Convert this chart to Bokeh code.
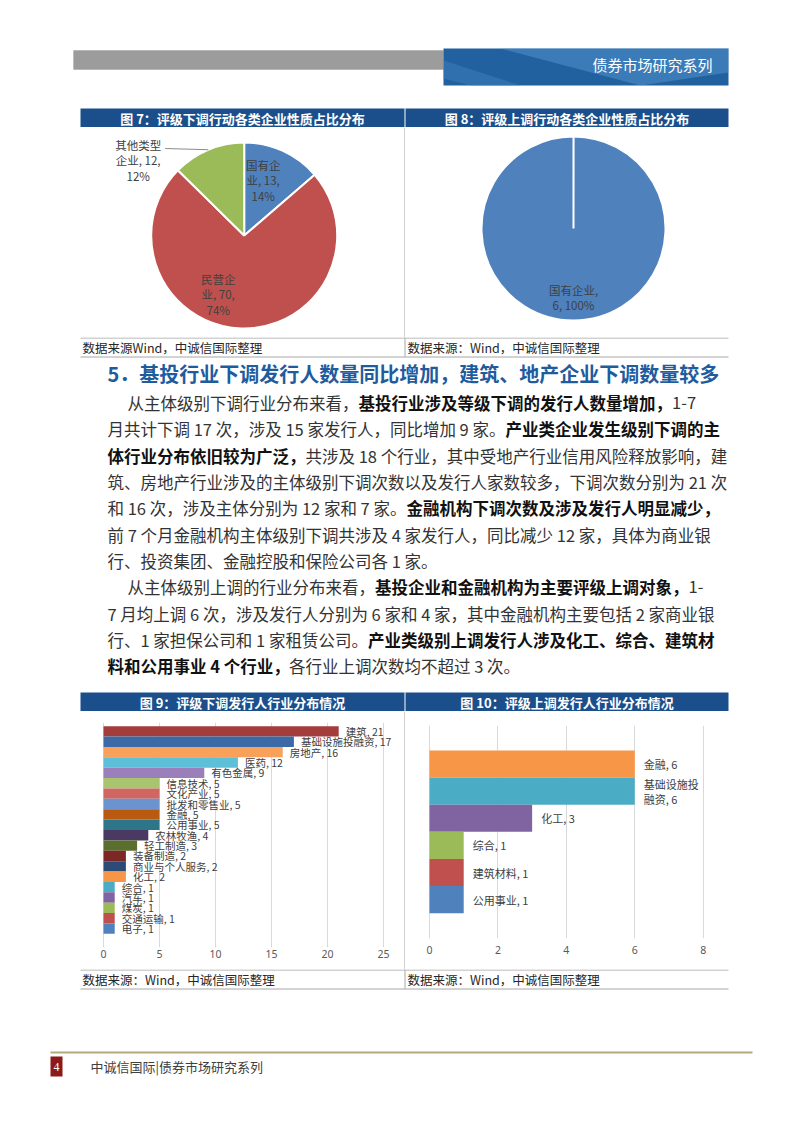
import numpy as np
from bokeh.plotting import figure
from bokeh.layouts import column, row
from bokeh.models import Range1d, ColumnDataSource, FixedTicker
from bokeh.core.properties import value
from bokeh.embed import file_html
from bokeh.resources import INLINE

CJK = "Noto Sans CJK SC"
LAT = "Noto Sans"

# ---------------- data ----------------
header_text = "债券市场研究系列"
fig7_title = "图 7：评级下调行动各类企业性质占比分布"
fig8_title = "图 8：评级上调行动各类企业性质占比分布"
fig9_title = "图 9：评级下调发行人行业分布情况"
fig10_title = "图 10：评级上调发行人行业分布情况"
source_7 = "数据来源Wind，中诚信国际整理"
source_std = "数据来源：Wind，中诚信国际整理"

pie7_cats = ["国有企业", "民营企业", "其他类型企业"]
pie7_vals = [13, 70, 12]
pie7_pcts = [14, 74, 12]

pie8_cats = ["国有企业"]
pie8_vals = [6]
pie8_pcts = [100]

bar9_cats = ["建筑", "基础设施投融资", "房地产", "医药", "有色金属", "信息技术", "文化产业",
             "批发和零售业", "金融", "公用事业", "农林牧渔", "轻工制造", "装备制造",
             "商业与个人服务", "化工", "综合", "汽车", "煤炭", "交通运输", "电子"]
bar9_vals = [21, 17, 16, 12, 9, 5, 5, 5, 5, 5, 4, 3, 2, 2, 2, 1, 1, 1, 1, 1]
bar9_ticks = [0, 5, 10, 15, 20, 25]

bar10_cats = ["金融", "基础设施投融资", "化工", "综合", "建筑材料", "公用事业"]
bar10_vals = [6, 6, 3, 1, 1, 1]
bar10_ticks = [0, 2, 4, 6, 8]

heading = "5．基投行业下调发行人数量同比增加，建筑、地产企业下调数量较多"
para_lines = [
    [("从主体级别下调行业分布来看，", 0), ("基投行业涉及等级下调的发行人数量增加，", 1), ("1-7", 0)],
    [("月共计下调 17 次，涉及 15 家发行人，同比增加 9 家。", 0), ("产业类企业发生级别下调的主", 1)],
    [("体行业分布依旧较为广泛，", 1), ("共涉及 18 个行业，其中受地产行业信用风险释放影响，建", 0)],
    [("筑、房地产行业涉及的主体级别下调次数以及发行人家数较多，下调次数分别为 21 次", 0)],
    [("和 16 次，涉及主体分别为 12 家和 7 家。", 0), ("金融机构下调次数及涉及发行人明显减少，", 1)],
    [("前 7 个月金融机构主体级别下调共涉及 4 家发行人，同比减少 12 家，具体为商业银", 0)],
    [("行、投资集团、金融控股和保险公司各 1 家。", 0)],
    [("从主体级别上调的行业分布来看，", 0), ("基投企业和金融机构为主要评级上调对象，", 1), ("1-", 0)],
    [("7 月均上调 6 次，涉及发行人分别为 6 家和 4 家，其中金融机构主要包括 2 家商业银", 0)],
    [("行、1 家担保公司和 1 家租赁公司。", 0), ("产业类级别上调发行人涉及化工、综合、建筑材", 1)],
    [("料和公用事业 4 个行业，", 1), ("各行业上调次数均不超过 3 次。", 0)],
]
para_indent = [1, 0, 0, 0, 0, 0, 0, 1, 0, 0, 0]
footer_page = "4"
footer_text = "中诚信国际|债券市场研究系列"

# ---------------- styles ----------------
PIE_COLORS7 = ["#4F81BD", "#C0504D", "#9BBB59"]
PIE_COLORS8 = ["#4F81BD"]
BAR9_COLORS = ["#A33D3B", "#3C6AA6", "#F9A05A", "#5DBFD8", "#9A7FBA", "#A9C46E", "#D06562",
               "#6A93CF", "#B85A10", "#2D7689", "#4A3A62", "#5A6F2D", "#7C2826", "#2B4A75",
               "#F79646", "#4BACC6", "#8064A2", "#9BBB59", "#C0504D", "#4F81BD"]
BAR10_COLORS = ["#F79646", "#4BACC6", "#8064A2", "#9BBB59", "#C0504D", "#4F81BD"]
TITLE_BLUE = "#1B4F8C"
HEAD_BLUE = "#1F5C9E"
GRID = "#D9D9D9"
SEP = "#A6A6A6"
X0, X1 = 0, 802
PAGE_W = X1 - X0
BODY = 16.5


def no_align(p):
    try:
        p.frame_align = False
    except Exception:
        pass
    return p


def base_fig(width, height, xr, yr, fill="white", **kw):
    opts = dict(width=width, height=height, x_range=xr, y_range=yr,
                output_backend="svg", toolbar_location=None, min_border=0,
                background_fill_color=fill, border_fill_color=fill,
                outline_line_color=None)
    opts.update(kw)
    p = figure(**opts)
    return no_align(p)


def blank(width, height, fill="white"):
    p = base_fig(width, height, Range1d(0, 1), Range1d(0, 1), fill,
                 x_axis_location=None, y_axis_location=None)
    p.grid.visible = False
    return p


def page_fig(y0, y1):
    p = base_fig(PAGE_W, y1 - y0, Range1d(X0, X1), Range1d(y1, y0),
                 x_axis_location=None, y_axis_location=None)
    p.grid.visible = False
    return p


def txt(p, xs, ys, texts, size, color, bold=False, align="left", font=CJK, **kw):
    p.text(x=xs, y=ys, text=texts, text_font=value(font), text_font_size=size,
           text_color=color, text_font_style="bold" if bold else "normal",
           text_align=align, text_baseline="middle", **kw)


def em_width(s):
    w = 0.0
    for ch in s:
        if ord(ch) >= 0x2E80:
            w += 1.0
        elif ch.isdigit():
            w += 0.555
        elif ch == " ":
            w += 0.224
        elif ch == "-":
            w += 0.34
        else:
            w += 0.55
    return w


# ---------------- header (page y 0..127) ----------------
hdr = page_fig(0, 127)
hdr.quad(left=73, right=443, top=50, bottom=69, fill_color="#8C8C8C", line_color=None)
ys = np.arange(50.5, 69, 2.0)
hdr.segment(x0=73, x1=443, y0=ys, y1=ys, line_color="#ABABAB", line_width=1)
hdr.quad(left=443, right=728, top=48, bottom=85, fill_color="#22619F", line_color=None)
hdr.patch(x=[500, 728, 728, 640], y=[48, 48, 72, 85], fill_color="#5B9BD5",
          fill_alpha=0.45, line_color=None)
hdr.patch(x=[443, 520, 470, 443], y=[60, 85, 85, 78], fill_color="#3F7FBF",
          fill_alpha=0.5, line_color=None)
txt(hdr, [712], [64], [header_text], "15px", "white", align="right")
hdr.quad(left=[80, 405], right=[404, 728], top=108, bottom=127,
         fill_color=TITLE_BLUE, line_color=None)
txt(hdr, [242, 566.5], [117.5, 117.5], [fig7_title, fig8_title], "13px", "white",
    bold=True, align="center")


# ---------------- pies (page y 127..337) ----------------
def pie_angles(vals):
    fr = np.cumsum([0] + list(vals)) / float(sum(vals))
    start = np.pi / 2 - fr[1:] * 2 * np.pi
    end = np.pi / 2 - fr[:-1] * 2 * np.pi
    full = (end - start) >= 2 * np.pi - 1e-9
    end = np.where(full, end - 1e-3, end)
    return start, end, (fr[:-1] + fr[1:]) / 2


# pie 7
cx7, cy7, r7 = 163.7, 102.0, 93.0
p7 = base_fig(324, 210, Range1d(0, 324), Range1d(0, 210),
              x_axis_location=None, y_axis_location=None)
p7.grid.visible = False
st, en, mid7 = pie_angles(pie7_vals)
src7 = ColumnDataSource(dict(x=[cx7] * len(pie7_vals), y=[cy7] * len(pie7_vals),
                             s=st, e=en, c=PIE_COLORS7))
p7.wedge(x="x", y="y", radius=r7, start_angle="s", end_angle="e", fill_color="c",
         line_color="white", line_width=2, source=src7)
wrap7 = [3, 3, 4]
lab7 = [c[:w] + "\n" + c[w:] + ", %d,\n%d%%" % (v, q)
        for c, v, q, w in zip(pie7_cats, pie7_vals, pie7_pcts, wrap7)]
off7 = [(19, 55), (-26, -59), (-106, 75)]
txt(p7, [cx7 + o[0] for o in off7], [cy7 + o[1] for o in off7], lab7, "11.5px", "#404040",
    align="center", text_line_height=0.95)
# leader line for the outside label
ang = mid7[2] * 2 * np.pi
p7.line(x=[cx7 - 79, cx7 + r7 * np.sin(ang)], y=[cy7 + 87, cy7 + r7 * np.cos(ang)],
        line_color="#8C8C8C", line_width=1)

# pie 8
cx8, cy8, r8 = 168.0, 109.0, 92.0
p8 = base_fig(323, 210, Range1d(0, 323), Range1d(0, 210),
              x_axis_location=None, y_axis_location=None)
p8.grid.visible = False
st8, en8, _ = pie_angles(pie8_vals)
src8 = ColumnDataSource(dict(x=[cx8], y=[cy8], s=st8, e=en8, c=PIE_COLORS8))
p8.wedge(x="x", y="y", radius=r8, start_angle="s", end_angle="e", fill_color="c",
         line_color="white", line_width=2, source=src8)
lab8 = ["%s,\n%d, %d%%" % (c, v, q) for c, v, q in zip(pie8_cats, pie8_vals, pie8_pcts)]
txt(p8, [cx8], [cy8 - 69], lab8, "11.5px", "#404040", align="center", text_line_height=0.95)

# ---------------- middle text block (page y 337..711) ----------------
mid = page_fig(337, 711)
mid.segment(x0=80, x1=728, y0=[337.5, 356.5], y1=[337.5, 356.5], line_color=SEP, line_width=1)
mid.segment(x0=404.5, x1=404.5, y0=337, y1=356, line_color=SEP, line_width=1)
txt(mid, [82, 407], [347, 347], [source_7, source_std], "12.5px", "#262626")
txt(mid, [107], [373], [heading], "20px", HEAD_BLUE, bold=True)

line_y = [402, 428, 455, 481, 507, 534, 560, 586, 613, 639, 665]
nx, ny, nt, bx, by, bt = [], [], [], [], [], []
for runs, y, ind in zip(para_lines, line_y, para_indent):
    x = 107 + (20 if ind else 0)
    for s, b in runs:
        if b:
            bx.append(x); by.append(y); bt.append(s)
        else:
            nx.append(x); ny.append(y); nt.append(s)
        x += em_width(s) * BODY
txt(mid, nx, ny, nt, "%gpx" % BODY, "#333333")
txt(mid, bx, by, bt, "%gpx" % BODY, "#111111", bold=True)

mid.quad(left=[80, 405], right=[404, 728], top=692, bottom=711,
         fill_color=TITLE_BLUE, line_color=None)
txt(mid, [242, 566.5], [701.5, 701.5], [fig9_title, fig10_title], "13px", "white",
    bold=True, align="center")


# ---------------- bar charts (page y 711..969) ----------------
def style_axis(p, ticks, size, standoff):
    p.ygrid.visible = False
    p.xaxis.ticker = FixedTicker(ticks=ticks)
    p.xgrid.ticker = FixedTicker(ticks=ticks)
    p.xgrid.grid_line_color = GRID
    p.xaxis.axis_line_color = None
    p.xaxis.major_tick_line_color = None
    p.xaxis.minor_tick_line_color = None
    p.xaxis.major_tick_out = 0
    p.xaxis.major_label_standoff = standoff
    p.xaxis.major_label_text_font = LAT
    p.xaxis.major_label_text_font_size = size
    p.xaxis.major_label_text_color = "#595959"


# figure 9
u9 = 11.2
p9 = base_fig(324, 258, Range1d(-23 / u9, 301 / u9), Range1d(-20.82, 0.856),
              min_border_top=11, min_border_bottom=22, y_axis_location=None)
style_axis(p9, bar9_ticks, "10.5px", 2)
y9 = [-i for i in range(len(bar9_cats))]
src9 = ColumnDataSource(dict(y=y9, v=bar9_vals, c=BAR9_COLORS,
                             t=["%s, %d" % (c, v) for c, v in zip(bar9_cats, bar9_vals)]))
p9.hbar(y="y", left=0, right="v", height=1, fill_color="c", line_color=None, source=src9)
p9.text(x="v", y="y", text="t", x_offset=7, source=src9, text_font=value(CJK),
        text_font_size="10.5px", text_color="#404040", text_baseline="middle")

# figure 10
u10 = 34.21
p10 = base_fig(323, 258, Range1d(-24 / u10, 299 / u10), Range1d(-6.433, 1.422),
               min_border_top=14, min_border_bottom=31, y_axis_location=None)
style_axis(p10, bar10_ticks, "10.5px", 7)
y10 = [-i for i in range(len(bar10_cats))]


def wrap_label(c, v, w=5):
    if len(c) > w:
        return c[:w] + "\n" + c[w:] + ", %d" % v
    return "%s, %d" % (c, v)


src10 = ColumnDataSource(dict(y=y10, v=bar10_vals, c=BAR10_COLORS,
                              t=[wrap_label(c, v) for c, v in zip(bar10_cats, bar10_vals)]))
p10.hbar(y="y", left=0, right="v", height=1, fill_color="c", line_color=None, source=src10)
p10.text(x="v", y="y", text="t", x_offset=9, source=src10, text_font=value(CJK),
         text_font_size="11px", text_color="#404040", text_baseline="middle",
         text_line_height=0.95)

# ---------------- footer (page y 969..1133) ----------------
foot = page_fig(969, 1133)
foot.segment(x0=80, x1=728, y0=[969.5, 988.5], y1=[969.5, 988.5], line_color=SEP, line_width=1)
foot.segment(x0=404.5, x1=404.5, y0=969, y1=988, line_color=SEP, line_width=1)
txt(foot, [82, 407], [978.5, 978.5], [source_std, source_std], "12.5px", "#262626")
foot.segment(x0=50, x1=752, y0=1052, y1=1052, line_color="#B5AA7A", line_width=2)
foot.quad(left=50, right=62, top=1056, bottom=1076, fill_color="#8B1A1A", line_color=None)
txt(foot, [56], [1066], [footer_page], "12px", "white", align="center", font="Liberation Serif")
txt(foot, [90], [1066], [footer_text], "13px", "#404040")

layout = column(
    hdr,
    row(blank(80, 210), p7, blank(1, 210, SEP), p8, blank(74, 210), spacing=0),
    mid,
    row(blank(80, 258), p9, blank(1, 258, SEP), p10, blank(74, 258), spacing=0),
    foot,
    spacing=0,
)

open("out.html", "w").write(file_html(layout, INLINE, "债券市场研究系列"))
